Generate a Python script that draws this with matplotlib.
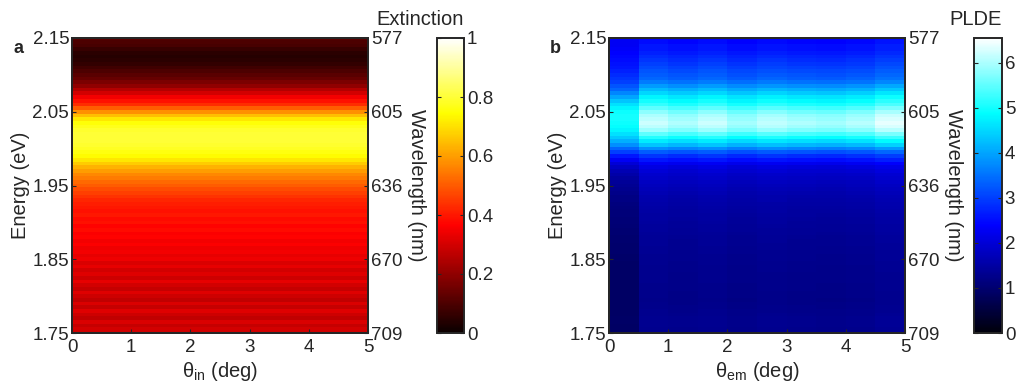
import numpy as np
import matplotlib
matplotlib.use("Agg")
import matplotlib.pyplot as plt
from matplotlib.colors import ListedColormap

plt.rcParams['font.family'] = ['Liberation Sans', 'DejaVu Sans']
plt.rcParams['mathtext.fontset'] = 'custom'
plt.rcParams['mathtext.rm'] = 'Liberation Sans'
plt.rcParams['mathtext.it'] = 'Liberation Sans:italic'
TXT = '#262626'

# ---------------- data ----------------
# energy rows, from 2.15 eV down to 1.75 eV (0.005 eV step)
energy = [2.150 - 0.005 * i for i in range(81)]

extinction = [
    0.12, 0.10, 0.09, 0.07, 0.05, 0.04, 0.05, 0.06, 0.08, 0.10,
    0.12, 0.14, 0.17, 0.20, 0.25, 0.30, 0.35, 0.39, 0.43, 0.50,
    0.58, 0.65, 0.71, 0.75, 0.77, 0.79, 0.80, 0.80, 0.80, 0.79,
    0.78, 0.76, 0.74, 0.71, 0.67, 0.63, 0.60, 0.57, 0.55, 0.52,
    0.50, 0.48, 0.46, 0.44, 0.42, 0.41, 0.40, 0.39, 0.40, 0.38,
    0.39, 0.37, 0.38, 0.36, 0.37, 0.35, 0.36, 0.34, 0.35, 0.33,
    0.34, 0.31, 0.33, 0.30, 0.32, 0.29, 0.33, 0.30, 0.28, 0.32,
    0.29, 0.27, 0.31, 0.28, 0.32, 0.29, 0.27, 0.31, 0.28, 0.30,
    0.29,
]

# emission angle columns (deg): edges every 0.5 deg
theta_em_edges = [0.0, 0.5, 1.0, 1.5, 2.0, 2.5, 3.0, 3.5, 4.0, 4.5, 5.0]

# PLDE profile of the first column (0-0.5 deg)
plde_col0 = [
    2.3, 2.3, 2.3, 2.35, 2.4, 2.45, 2.5, 2.55, 2.6, 2.7,
    2.8, 2.9, 3.0, 3.2, 3.4, 3.7, 4.0, 4.3, 4.6, 4.8,
    4.95, 5.0, 5.0, 4.95, 4.9, 4.8, 4.6, 4.35, 4.1, 3.8,
    3.4, 3.0, 2.6, 2.3, 2.0, 1.8, 1.65, 1.55, 1.45, 1.4,
    1.35, 1.3, 1.25, 1.2, 1.18, 1.15, 1.12, 1.1, 1.08, 1.06,
    1.05, 1.03, 1.02, 1.0, 0.99, 0.98, 0.97, 0.96, 0.95, 0.94,
    0.93, 0.92, 0.92, 0.91, 0.9, 0.9, 0.89, 0.89, 0.88, 0.88,
    0.87, 0.87, 0.87, 0.88, 0.88, 0.89, 0.9, 0.9, 0.89, 0.88,
    0.88,
]

# PLDE profile of the other columns (0.5-5 deg)
plde_profile = [
    2.4, 2.5, 2.6, 2.6, 2.7, 2.8, 2.9, 3.0, 3.1, 3.2,
    3.3, 3.4, 3.6, 3.9, 4.2, 4.5, 4.8, 5.0, 5.2, 5.5,
    5.8, 6.0, 6.1, 6.2, 6.1, 5.9, 5.5, 5.1, 4.7, 4.3,
    3.8, 3.3, 2.9, 2.6, 2.3, 2.1, 2.0, 1.9, 1.85, 1.8,
    1.75, 1.7, 1.65, 1.6, 1.58, 1.55, 1.52, 1.5, 1.48, 1.46,
    1.45, 1.43, 1.42, 1.4, 1.38, 1.37, 1.36, 1.35, 1.34, 1.33,
    1.32, 1.31, 1.3, 1.3, 1.29, 1.28, 1.28, 1.27, 1.27, 1.26,
    1.26, 1.25, 1.26, 1.27, 1.28, 1.3, 1.32, 1.33, 1.32, 1.3,
    1.3,
]
# relative level of columns 2..10
plde_col_gain = [1.0, 0.97, 1.0, 0.96, 0.99, 0.97, 0.96, 0.98, 1.03]

energy_ticks = [1.75, 1.85, 1.95, 2.05, 2.15]
wavelength_labels = ['709', '670', '636', '605', '577']
theta_ticks = [0, 1, 2, 3, 4, 5]
ext_cbar_ticks = [0, 0.2, 0.4, 0.6, 0.8, 1]
plde_cbar_ticks = [0, 1, 2, 3, 4, 5, 6]
plde_max = 6.55

# ---------------- figure ----------------
fig = plt.figure(figsize=(10.21, 3.91), dpi=100)
W, H = 1021, 391


def fax(x0, x1, y0, y1):
    return fig.add_axes([x0 / W, 1 - y1 / H, (x1 - x0) / W, (y1 - y0) / H])


ax1 = fax(72, 368, 38, 333)
cax1 = fax(437, 464, 38, 333)
ax2 = fax(609, 905, 38, 333)
cax2 = fax(974, 1002, 38, 333)

hot = plt.get_cmap('hot')
arr = hot(np.linspace(0, 1, 256))
blue_hot = ListedColormap(arr[:, [2, 1, 0, 3]])

e = np.array(energy)
e_edges = np.concatenate([[e[0] + 0.0025], e - 0.0025])

# panel a
ext = np.array(extinction)[:, None]
m1 = ax1.pcolormesh([0, 5], e_edges, ext, cmap=hot, vmin=0, vmax=1)

# panel b
cols = [np.array(plde_col0)] + [g * np.array(plde_profile) for g in plde_col_gain]
plde = np.stack(cols, axis=1)
m2 = ax2.pcolormesh(theta_em_edges, e_edges, plde, cmap=blue_hot, vmin=0, vmax=plde_max)

for ax, xl, letter, lx in [(ax1, 'θ$_{\\rm in}$ (deg)', 'a', -0.196),
                           (ax2, 'θ$_{\\rm em}$ (deg)', 'b', -0.20)]:
    ax.set_xlim(0, 5)
    ax.set_ylim(1.75, 2.15)
    ax.set_xticks(theta_ticks)
    ax.set_yticks(energy_ticks)
    ax.set_yticklabels(['%.2f' % v for v in energy_ticks])
    ax.tick_params(direction='in', length=3, labelsize=13.5, colors=TXT, pad=2)
    ax.tick_params(axis='x', pad=4)
    ax.set_xlabel(xl, fontsize=14.5, color=TXT, labelpad=3)
    ax.set_ylabel('Energy (eV)', fontsize=14.5, color=TXT, labelpad=2)
    for s in ax.spines.values():
        s.set_linewidth(1.4)
        s.set_color(TXT)
    axr = ax.twinx()
    axr.set_ylim(1.75, 2.15)
    axr.set_yticks(energy_ticks)
    axr.set_yticklabels(wavelength_labels)
    axr.tick_params(direction='in', length=3, labelsize=13.5, colors=TXT, pad=2)
    axr.set_ylabel('Wavelength (nm)', fontsize=14.5, color=TXT, rotation=270,
                   labelpad=17)
    for s in axr.spines.values():
        s.set_linewidth(1.4)
        s.set_color(TXT)
    ax.text(lx, 0.966, letter, transform=ax.transAxes,
            fontsize=13, fontweight='bold', color=TXT, ha='left', va='center')

for m, cax, ticks, title in [(m1, cax1, ext_cbar_ticks, 'Extinction'),
                             (m2, cax2, plde_cbar_ticks, 'PLDE')]:
    cb = fig.colorbar(m, cax=cax, ticks=ticks)
    cb.ax.tick_params(direction='in', left=True, right=True, length=3,
                      labelsize=13.5, colors=TXT, pad=2)
    cb.ax.set_yticklabels([('%g' % t) for t in ticks])
    cb.outline.set_linewidth(1.4)
    cb.outline.set_edgecolor(TXT)
    cax.text(1.0, 1.03, title, transform=cax.transAxes, ha='right', va='bottom',
             fontsize=14.5, color=TXT)

fig.savefig('out.png', dpi=100)
